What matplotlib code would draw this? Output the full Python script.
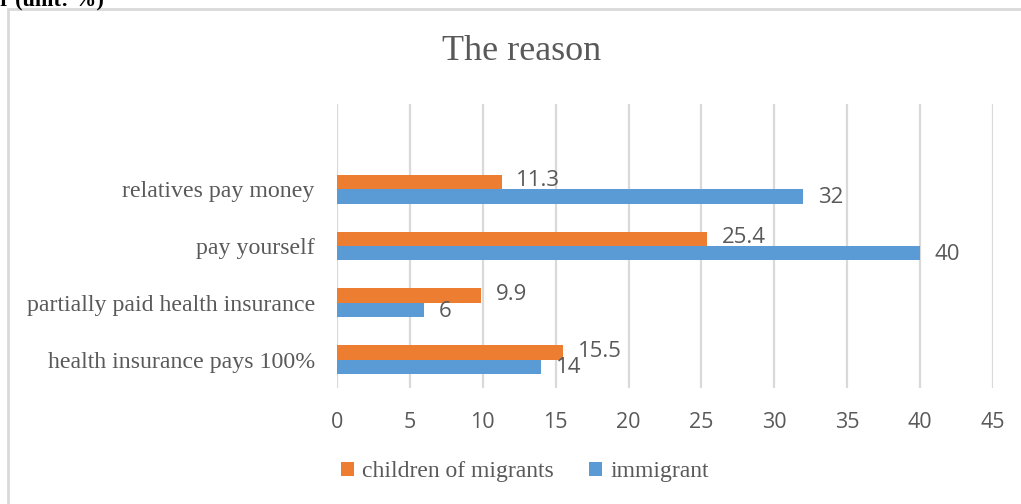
import matplotlib
matplotlib.use('Agg')
import matplotlib.pyplot as plt
from matplotlib.patches import Rectangle
import numpy as np

# reasons, listed bottom to top as they appear on the axis
reasons = ['health insurance pays 100%', 'partially paid health insurance',
           'pay yourself', 'relatives pay money']
children = [15.5, 9.9, 25.4, 11.3]
immigrant = [14, 6, 40, 32]
series_names = ['children of migrants', 'immigrant']
xticks = [0, 5, 10, 15, 20, 25, 30, 35, 40, 45]

orange = '#ED7D31'
blue = '#5B9BD5'
grey_text = '#595959'
grid_col = '#D9D9D9'
serif = ['Liberation Serif', 'DejaVu Serif']
sans = ['Open Sans', 'DejaVu Sans']

W, H = 1021, 504
fig = plt.figure(figsize=(W / 100, H / 100), dpi=100)

# chart frame (runs off the right and bottom edges)
fig.patches.append(Rectangle((8 / W, -0.1), 1.2, 1 - 9 / H + 0.1,
                             transform=fig.transFigure, fill=False,
                             edgecolor=grid_col, linewidth=2))

# caption from the page above, cut off at the top
fig.text(0.0, 1 - 5 / H, 'r (unit: %)', family=serif, fontsize=16,
         fontweight='bold', color='black', va='baseline', ha='left')

ax = fig.add_axes([337 / W, 1 - 388 / H, 656 / W, 284 / H])

y = np.arange(len(reasons))
h = 0.255
ax.barh(y + h / 2, children, height=h, color=orange, label=series_names[0], zorder=3)
ax.barh(y - h / 2, immigrant, height=h, color=blue, label=series_names[1], zorder=3)

for yi, v in zip(y, children):
    ax.text(v + 1.0, yi + h / 2 + 0.02, f'{v:g}', fontsize=16, family=sans,
            color=grey_text, va='center', ha='left')
for yi, v in zip(y, immigrant):
    ax.text(v + 1.0, yi - h / 2 - 0.02, f'{v:g}', fontsize=16, family=sans,
            color=grey_text, va='center', ha='left')

ax.set_xlim(0, 45)
ax.set_ylim(-0.5, 4.5)
ax.set_xticks(xticks)
ax.set_xticklabels([str(t) for t in xticks], family=sans, fontsize=15.5, color=grey_text)
ax.set_yticks(y)
ax.set_yticklabels(reasons, family=serif, fontsize=17.2, color=grey_text)
ax.tick_params(axis='both', length=0)
ax.tick_params(axis='x', pad=17)
ax.tick_params(axis='y', pad=16)
ax.grid(axis='x', color=grid_col, linewidth=1.6, zorder=0)
for s in ax.spines.values():
    s.set_visible(False)

fig.text(522 / W, 1 - 51 / H, 'The reason', family=serif, fontsize=26,
         color=grey_text, ha='center', va='center')

leg = fig.legend(loc='center', bbox_to_anchor=(525 / W, 1 - 472 / H), ncol=2,
                 frameon=False, prop={'family': serif, 'size': 17},
                 handlelength=0.55, handleheight=0.55, handletextpad=0.35,
                 columnspacing=1.5)
for t in leg.get_texts():
    t.set_color(grey_text)

fig.savefig('out.png', dpi=100)
